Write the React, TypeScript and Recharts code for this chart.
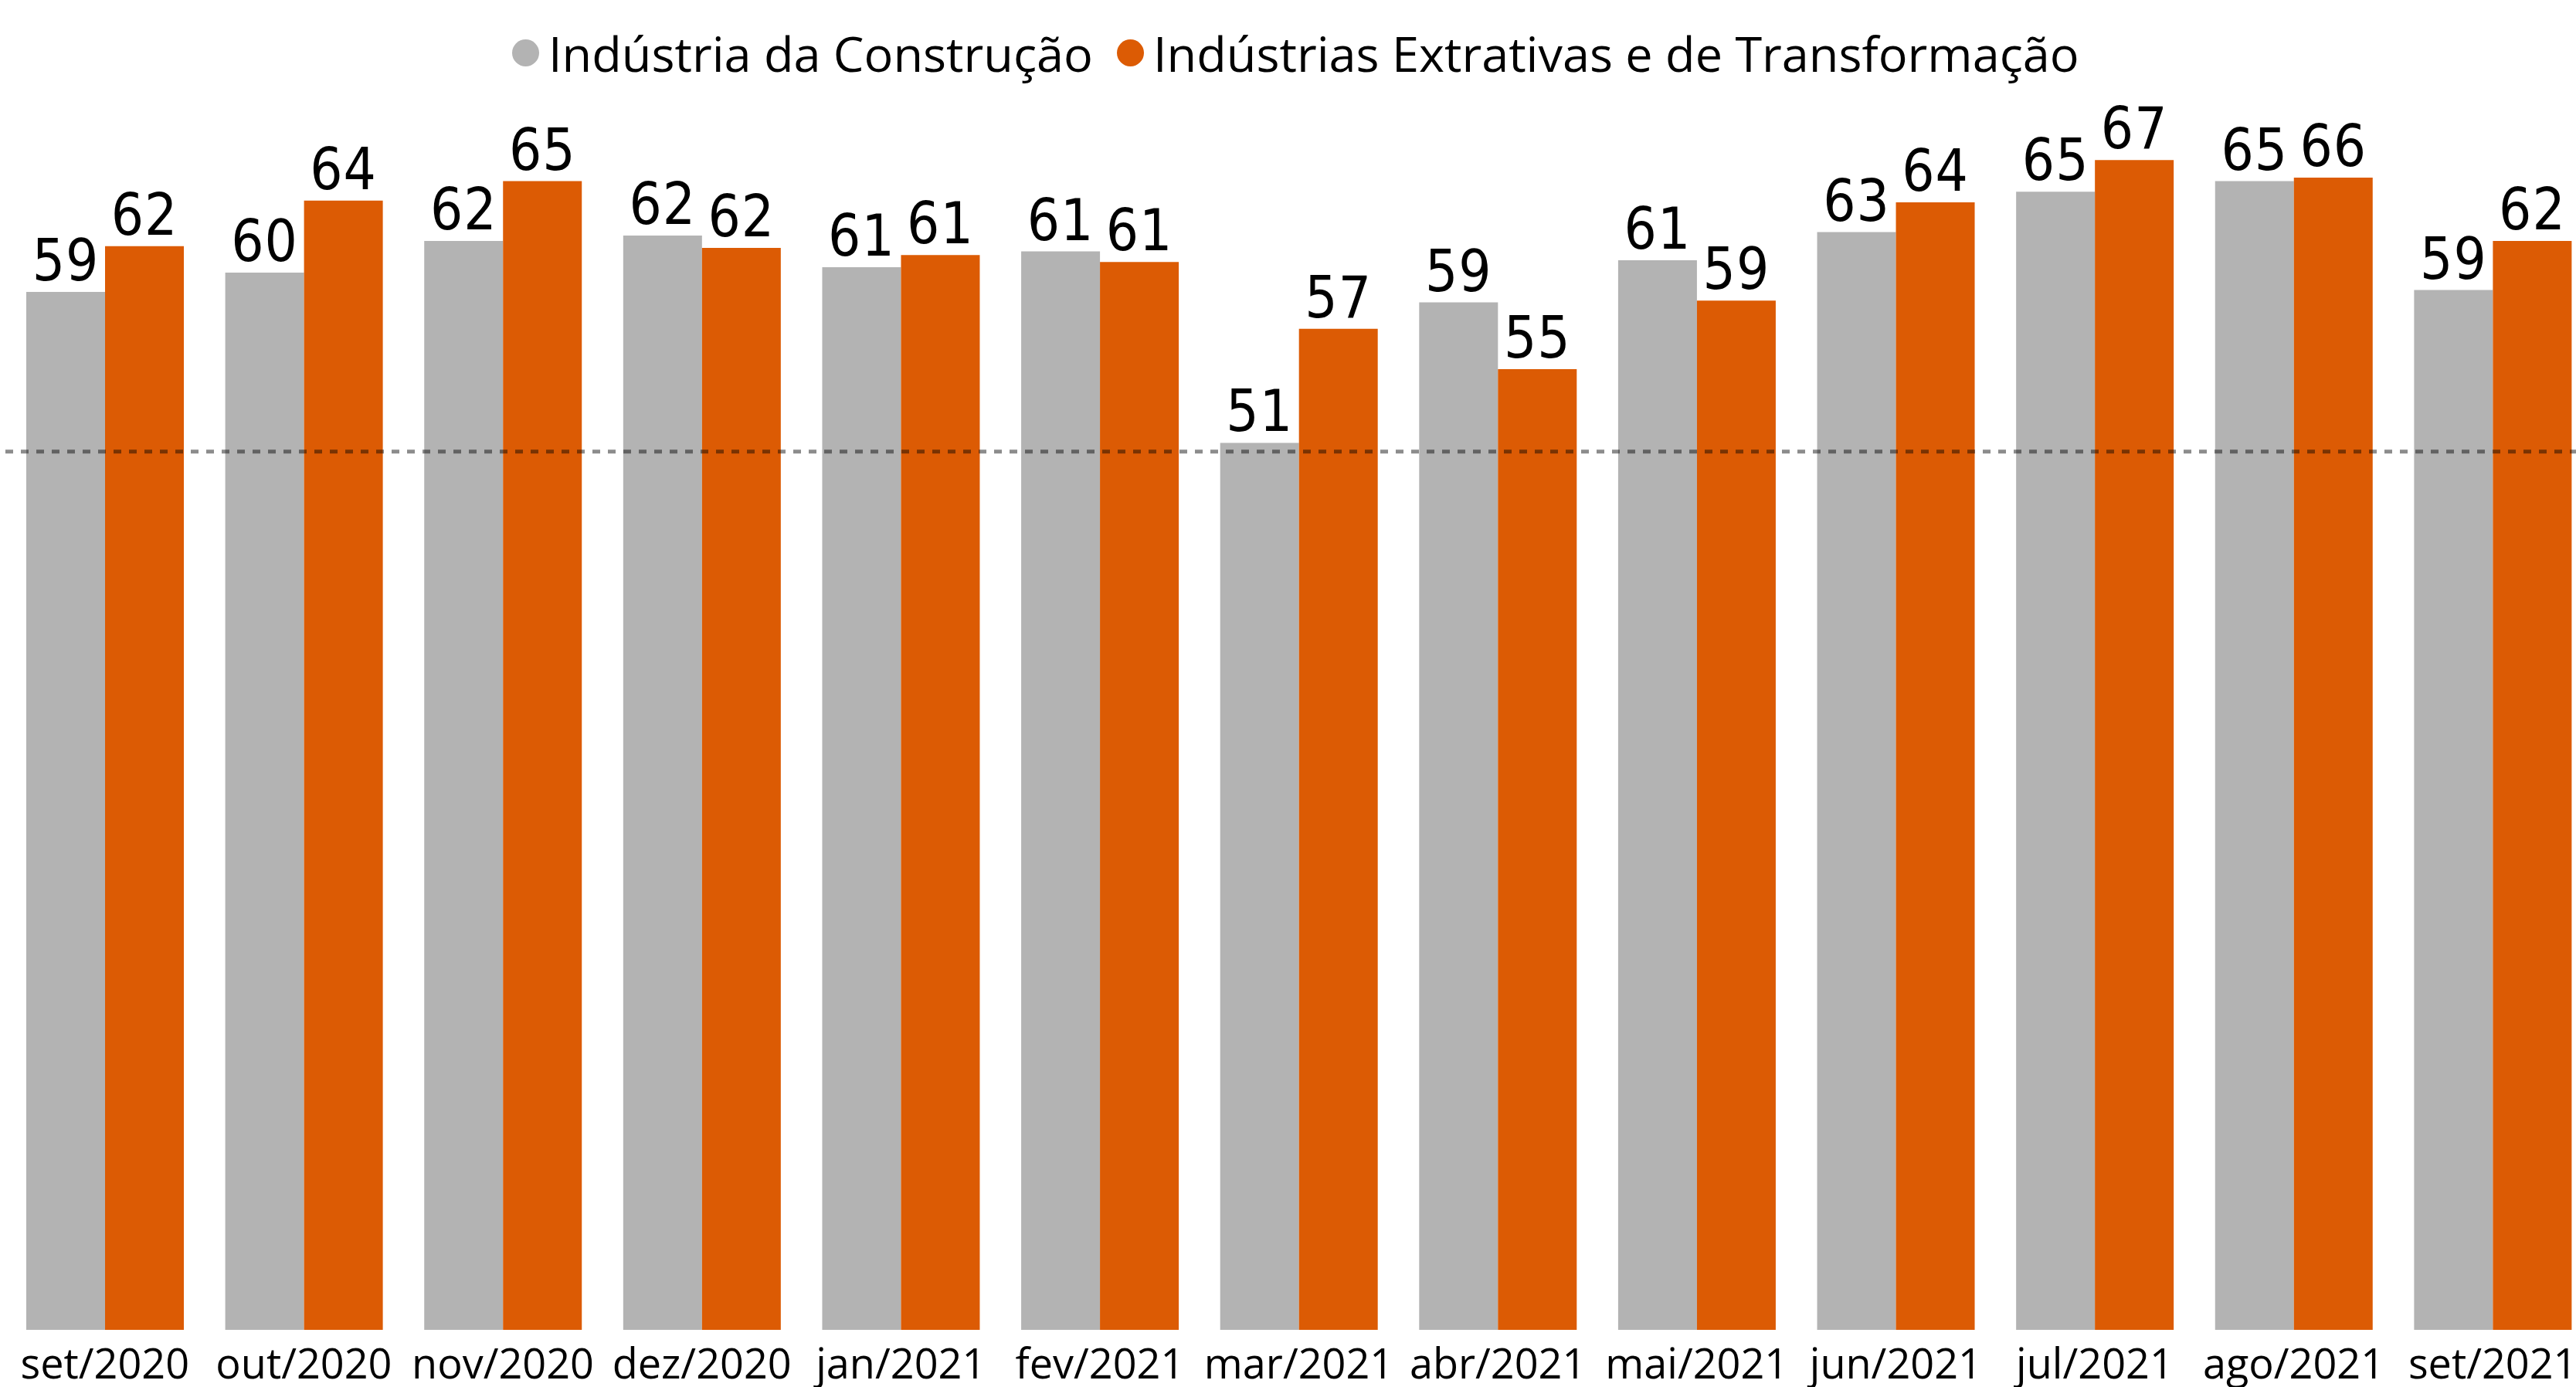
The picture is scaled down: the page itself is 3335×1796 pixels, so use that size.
import { BarChart, Bar, XAxis, YAxis, LabelList, ReferenceLine } from 'recharts'

const months = [
  'set/2020', 'out/2020', 'nov/2020', 'dez/2020', 'jan/2021', 'fev/2021', 'mar/2021',
  'abr/2021', 'mai/2021', 'jun/2021', 'jul/2021', 'ago/2021', 'set/2021'
]

// Indústria da Construção
const construcao = [59.1, 60.2, 62.0, 62.3, 60.5, 61.4, 50.5, 58.5, 60.9, 62.5, 64.8, 65.4, 59.2]
// Indústrias Extrativas e de Transformação
const extrativas = [61.7, 64.3, 65.4, 61.6, 61.2, 60.8, 57.0, 54.7, 58.6, 64.2, 66.6, 65.6, 62.0]

const seriesNames = ['Indústria da Construção', 'Indústrias Extrativas e de Transformação']
const COLORS = ['#B3B3B3', '#DC5B04']
const threshold = 50

const data = months.map((m, i) => ({ month: m, construcao: construcao[i], extrativas: extrativas[i] }))

const labelFont = "'DejaVu Sans Condensed', 'DejaVu Sans', sans-serif"
const textFont = "'Open Sans', 'Noto Sans', sans-serif"

export default function App() {
  return (
    <div
      style={{
        position: 'fixed',
        left: 0,
        top: 0,
        width: 3335,
        height: 1796,
        overflow: 'hidden',
        background: '#fff'
      }}
    >
      <div
        style={{
          position: 'absolute',
          left: 663,
          top: 37,
          display: 'flex',
          alignItems: 'center',
          fontFamily: textFont,
          fontSize: 63,
          lineHeight: 1,
          color: '#000',
          whiteSpace: 'nowrap'
        }}
      >
        {seriesNames.map((name, i) => (
          <div key={name} style={{ display: 'flex', alignItems: 'center', marginRight: i === 0 ? 31 : 0 }}>
            <span
              style={{
                width: 35,
                height: 35,
                borderRadius: '50%',
                background: COLORS[i],
                display: 'inline-block',
                marginRight: 12
              }}
            />
            <span>{name}</span>
          </div>
        ))}
      </div>
      <BarChart
        width={3356}
        height={1796}
        data={data}
        margin={{ top: 130, right: 0, bottom: 0, left: 7 }}
        barGap={0}
        barSize={102}
      >
        <XAxis
          dataKey="month"
          height={74}
          axisLine={false}
          tickLine={false}
          tickSize={6}
          tickMargin={19}
          interval={0}
          tick={{ fill: '#000', fontSize: 54, fontFamily: textFont }}
        />
        <YAxis hide domain={[0, 70]} />
        <Bar dataKey="construcao" fill={COLORS[0]} isAnimationActive={false}>
          <LabelList
            dataKey="construcao"
            position="top"
            offset={15}
            formatter={(v: any) => Math.round(Number(v))}
            fill="#000"
            fontSize={74}
            fontFamily={labelFont}
            letterSpacing={1}
          />
        </Bar>
        <Bar dataKey="extrativas" fill={COLORS[1]} isAnimationActive={false}>
          <LabelList
            dataKey="extrativas"
            position="top"
            offset={15}
            formatter={(v: any) => Math.round(Number(v))}
            fill="#000"
            fontSize={74}
            fontFamily={labelFont}
            letterSpacing={1}
          />
        </Bar>
        <ReferenceLine
          y={threshold}
          stroke="#000"
          strokeOpacity={0.45}
          strokeWidth={5}
          strokeDasharray="10 10"
        />
      </BarChart>
    </div>
  )
}
